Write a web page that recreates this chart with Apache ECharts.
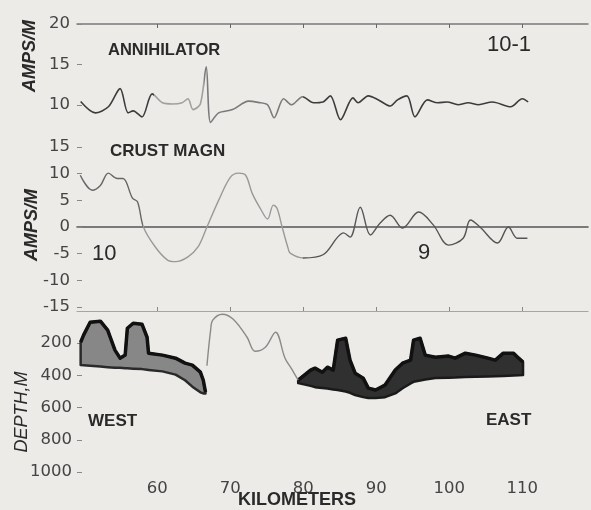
<!DOCTYPE html>
<html>
<head>
<meta charset="utf-8">
<script src="https://cdn.jsdelivr.net/npm/echarts@6/dist/echarts.min.js"></script>
<style>
html, body { margin: 0; padding: 0; background: #ecebe8; }
#main { width: 591px; height: 510px; }
</style>
</head>
<body>
<div id="main"></div>
<script>
// km along the track, shared by all three panels
var kmTicks = [60, 70, 80, 90, 100, 110];

// top panel: annihilator (amps/m)
var annTicks = [10, 15, 20];
var annKm = [49.5, 51.5, 53.3, 54.9, 56.0, 56.7, 57.9, 59.3, 60.7, 62.1, 63.4, 64.2, 64.9, 65.9, 66.7, 67.3,
  68.4, 70.3, 72.5, 73.8, 75.1, 76.0, 77.3, 78.4, 79.9, 81.4, 82.7, 83.7, 85.1, 86.8, 87.5, 88.9, 90.3,
  91.9, 92.9, 94.2, 95.3, 97.0, 98.4, 99.7, 101.2, 102.6, 104.0, 105.9, 108.4, 110.0, 110.8];
var annVal = [10.4, 9.0, 9.75, 12.0, 9.0, 9.25, 8.5, 11.35, 10.25, 10.1, 10.25, 10.75, 9.4, 10.1, 14.7, 7.8,
  9.0, 9.4, 10.45, 10.3, 10.0, 8.4, 10.75, 10.0, 11.0, 10.25, 10.35, 11.1, 8.15, 10.85, 10.25, 11.1, 10.6,
  9.85, 10.6, 11.1, 8.5, 10.6, 10.25, 10.35, 10.0, 10.25, 10.0, 10.35, 9.75, 10.75, 10.35];

// middle panel: crust magnetisation (amps/m)
var crustTicks = [-15, -10, -5, 0, 5, 10, 15];
var crustKm = [49.45, 51.1, 52.2, 53.3, 54.5, 55.3, 56.6, 57.3, 58.1, 59.7, 61.4, 62.5, 64.2, 65.6, 66.8, 68.4,
  70.0, 71.1, 72.1, 73.0, 74.1, 75.1, 75.9, 76.4, 77.1, 77.9, 78.2, 80.0, 82.7, 84.7, 85.5, 86.4, 87.8,
  89.2, 90.5, 91.9, 93.6, 95.8, 97.8, 99.9, 101.9, 102.9, 104.2, 106.6, 108.1, 109.3, 110.7];
var crustVal = [9.7, 6.9, 7.8, 10.1, 9.1, 9.1, 5.4, 4.7, 0, -3.7, -6.2, -6.5, -5.6, -3.7, 0, 5.0,
  9.3, 10.1, 9.7, 6.3, 3.5, 1.5, 4.1, 3.5, 0, -3.9, -4.9, -5.8, -5.2, -1.9, -1.1, -1.9, 3.7,
  -1.5, 0.7, 2.2, -0.2, 2.8, 0.4, -3.4, -2.1, 1.3, 0, -3.0, 0, -2.1, -2.1];

// bottom panel: depth (m)
var depthTicks = [200, 400, 600, 800, 1000];
var westKm = [49.5, 49.9, 50.8, 52.2, 53.2, 54.2, 54.9, 55.6, 55.9, 56.7, 57.9, 58.6, 58.8, 60.7, 62.5, 63.8, 64.8, 65.9, 66.3, 66.6];
var westTop = [194, 150, 70, 63, 119, 243, 293, 274, 107, 76, 82, 163, 262, 274, 293, 324, 336, 380, 430, 504];
var westBase = [336, 337, 340, 345, 349, 352, 353, 355, 356, 358, 361, 365, 366, 375, 395, 430, 470, 505, 512, 512];
var midKm = [66.8, 67.3, 67.6, 68.9, 70.4, 72.3, 73.4, 74.8, 76.2, 77.5, 78.4, 79.3];
var midDepth = [340, 120, 57, 20, 51, 163, 250, 225, 132, 293, 360, 429];
var eastKm = [79.3, 81.0, 81.6, 82.6, 83.3, 84.1, 84.7, 85.8, 86.4, 87.1, 88.2, 88.9, 89.9, 91.2, 92.6, 93.6,
  94.7, 95.1, 96.0, 96.7, 98.1, 99.9, 100.8, 102.2, 103.6, 105.3, 106.3, 107.4, 108.8, 109.5, 110.1];
var eastTop = [429, 367, 355, 380, 349, 367, 181, 169, 305, 386, 417, 479, 491, 460, 367, 324,
  305, 181, 169, 274, 287, 280, 293, 262, 274, 293, 305, 262, 262, 293, 317];
var eastBase = [448, 465, 473, 478, 482, 487, 491, 500, 508, 522, 535, 541, 541, 535, 512, 480,
  450, 440, 432, 425, 416, 414, 413, 410, 409, 407, 405, 403, 400, 399, 398];

function zip(xs, ys) {
  return xs.map(function (x, i) { return [x, ys[i]]; });
}

// shaded layer between top and base, drawn once through the axis scales
function band(name, km, top, base, fill, edge) {
  return {
    name: name, type: 'custom', xAxisIndex: 2, yAxisIndex: 2, z: 3,
    data: km.map(function (k, i) { return [k, top[i], base[i]]; }),
    encode: { x: 0, y: [1, 2] },
    renderItem: function (params, api) {
      if (params.dataIndex !== 0) return null;
      var upper = km.map(function (k, i) { return api.coord([k, top[i]]); });
      var lower = km.map(function (k, i) { return api.coord([k, base[i]]); });
      return {
        type: 'group',
        children: [
          { type: 'polygon', shape: { points: upper.concat(lower.slice().reverse()) },
            style: { fill: fill, stroke: edge, lineWidth: 2.5, lineJoin: 'round' } },
          { type: 'polyline', shape: { points: upper },
            style: { fill: null, stroke: '#111', lineWidth: 3.5, lineJoin: 'round' } }
        ]
      };
    }
  };
}

var tickFont = { fontFamily: 'DejaVu Sans', fontSize: 16.5, color: '#444',
  formatter: function (v) { return String(v); } };
var ink = '#2a2a2a';

function label(text, x, y, font) {
  return {
    type: 'text', x: x, y: y, z: 10,
    style: { text: text, fill: ink, font: font, align: 'left', verticalAlign: 'top' }
  };
}
function vlabel(text, x, y, font) {
  return {
    type: 'text', x: x, y: y, rotation: Math.PI / 2, z: 10,
    style: { text: text, fill: ink, font: font, align: 'center', verticalAlign: 'middle' }
  };
}

var chart = echarts.init(document.getElementById('main'));
chart.setOption({
  backgroundColor: '#ecebe8',
  animation: false,
  grid: [
    { left: 77, right: 3, top: 24, height: 105 },
    { left: 77, right: 3, top: 147, height: 160 },
    { left: 77, right: 3, top: 311, height: 161 }
  ],
  // the scan fades the traces in the middle of the track
  visualMap: [
    { show: false, seriesIndex: 0, dimension: 0, pieces: [
      { lt: 59.5, color: '#3c3c3c' },
      { gte: 59.5, lt: 66.4, color: '#a0a0a0' },
      { gte: 66.4, lt: 80, color: '#7a7a7a' },
      { gte: 80, color: '#3c3c3c' }
    ] },
    { show: false, seriesIndex: 1, dimension: 0, pieces: [
      { lt: 58, color: '#666' },
      { gte: 58, lt: 80, color: '#999' },
      { gte: 80, color: '#555' }
    ] }
  ],
  xAxis: [
    { gridIndex: 0, type: 'value', min: 49, max: 119, position: 'top',
      axisLine: { lineStyle: { color: '#7a7a7a', width: 1.5 } },
      axisTick: { customValues: kmTicks, inside: true, length: 4, lineStyle: { color: '#666' } },
      axisLabel: { show: false }, splitLine: { show: false } },
    { gridIndex: 1, type: 'value', min: 49, max: 119,
      axisLine: { onZero: true, lineStyle: { color: '#555', width: 1.6 } },
      axisTick: { show: false }, axisLabel: { show: false }, splitLine: { show: false } },
    { gridIndex: 2, type: 'value', min: 49, max: 119, position: 'bottom',
      axisLine: { lineStyle: { color: '#a5a5a5', width: 1.2 } },
      axisTick: { customValues: kmTicks, inside: true, length: 4, lineStyle: { color: '#888' } },
      axisLabel: Object.assign({ customValues: kmTicks, margin: 8 }, tickFont),
      splitLine: { show: false } }
  ],
  yAxis: [
    { gridIndex: 0, type: 'value', min: 7, max: 20,
      axisLine: { show: false },
      axisTick: { show: true, customValues: annTicks, inside: true, length: 5, lineStyle: { color: '#888' } },
      axisLabel: Object.assign({ customValues: annTicks, margin: 7 }, tickFont),
      splitLine: { show: false } },
    { gridIndex: 1, type: 'value', min: -15, max: 15, interval: 5,
      axisLine: { show: false },
      axisTick: { show: true, inside: true, length: 5, lineStyle: { color: '#888' } },
      axisLabel: Object.assign({ margin: 7 }, tickFont),
      splitLine: { show: false } },
    { gridIndex: 2, type: 'value', min: 0, max: 1000, inverse: true,
      axisLine: { show: false },
      axisTick: { show: true, customValues: depthTicks, inside: true, length: 5, lineStyle: { color: '#888' } },
      axisLabel: Object.assign({ customValues: depthTicks, margin: 5 }, tickFont),
      splitLine: { show: false } }
  ],
  series: [
    { name: 'annihilator', type: 'line', xAxisIndex: 0, yAxisIndex: 0, data: zip(annKm, annVal),
      showSymbol: false, smooth: 0.3, lineStyle: { width: 1.6 } },
    { name: 'crust magn', type: 'line', xAxisIndex: 1, yAxisIndex: 1, data: zip(crustKm, crustVal),
      showSymbol: false, smooth: 0.35, lineStyle: { width: 1.4 } },
    band('west', westKm, westTop, westBase, '#878787', '#2a2a2a'),
    { name: 'depth', type: 'line', xAxisIndex: 2, yAxisIndex: 2, data: zip(midKm, midDepth),
      showSymbol: false, smooth: 0.35, lineStyle: { color: '#8a8a8a', width: 1.4 } },
    band('east', eastKm, eastTop, eastBase, '#303030', '#1a1a1a')
  ],
  graphic: [
    label('ANNIHILATOR', 108, 42, 'bold 16.5px "Liberation Sans"'),
    label('10-1', 487, 34, '22px "Liberation Sans"'),
    label('CRUST MAGN', 110, 143, 'bold 17px "Liberation Sans"'),
    label('10', 92, 243, '22px "Liberation Sans"'),
    label('9', 418, 242, '22px "Liberation Sans"'),
    label('WEST', 88, 413, 'bold 17px "Liberation Sans"'),
    label('EAST', 486, 412, 'bold 17px "Liberation Sans"'),
    label('KILOMETERS', 238, 491, 'bold 18px "Liberation Sans"'),
    vlabel('AMPS/M', 30, 56, 'italic bold 18px "Liberation Sans"'),
    vlabel('AMPS/M', 32, 225, 'italic bold 18px "Liberation Sans"'),
    vlabel('DEPTH,M', 22, 412, 'italic 18px "Liberation Sans"')
  ]
});
</script>
</body>
</html>
